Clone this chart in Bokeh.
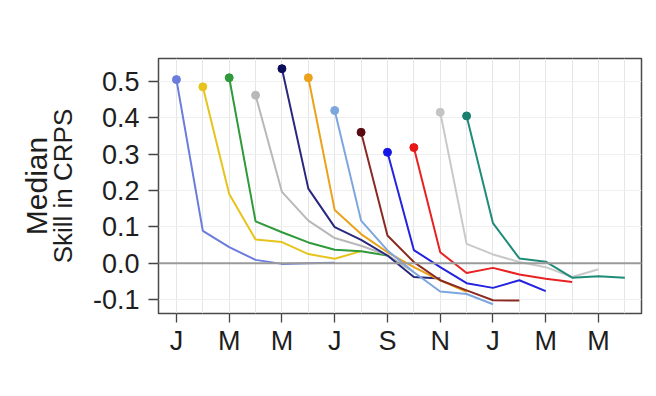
from bokeh.plotting import figure
from bokeh.models import Range1d, FixedTicker, Span, LinearAxis
from bokeh.embed import file_html
from bokeh.resources import INLINE

# ---- data -------------------------------------------------------------
tick_months = [0, 2, 4, 6, 8, 10, 12, 14, 16]
tick_labels = ["J", "M", "M", "J", "S", "N", "J", "M", "M"]
y_ticks = [-0.1, 0.0, 0.1, 0.2, 0.3, 0.4, 0.5]

start_months = [0, 1, 2, 3, 4, 5, 6, 7, 8, 9, 10, 11]
lead_times = [0, 1, 2, 3, 4, 5, 6]

skill_jan = [0.505, 0.089, 0.044, 0.009, -0.002, 0.000, 0.001]
skill_feb = [0.485, 0.190, 0.065, 0.058, 0.025, 0.012, 0.033]
skill_mar = [0.510, 0.115, 0.085, 0.057, 0.037, 0.033, 0.021]
skill_apr = [0.462, 0.196, 0.117, 0.069, 0.048, 0.022, -0.025]
skill_may = [0.535, 0.205, 0.099, 0.064, 0.021, -0.038, -0.042]
skill_jun = [0.510, 0.146, 0.080, 0.030, -0.011, -0.047, -0.079]
skill_jul = [0.420, 0.117, 0.035, -0.025, -0.078, -0.085, -0.113]
skill_aug = [0.360, 0.076, 0.003, -0.047, -0.075, -0.102, -0.103]
skill_sep = [0.305, 0.036, -0.011, -0.055, -0.068, -0.047, -0.077]
skill_oct = [0.318, 0.030, -0.027, -0.013, -0.031, -0.043, -0.052]
skill_nov = [0.415, 0.053, 0.024, 0.003, -0.011, -0.038, -0.017]
skill_dec = [0.405, 0.110, 0.013, 0.004, -0.040, -0.036, -0.040]

series = [skill_jan, skill_feb, skill_mar, skill_apr, skill_may, skill_jun,
          skill_jul, skill_aug, skill_sep, skill_oct, skill_nov, skill_dec]
line_colors = ["#6a7cdc", "#e6c41c", "#2f9a3a", "#b8b8b8", "#28287e", "#eba21a",
               "#7ca6de", "#8a2a22", "#2323e0", "#e82222", "#c9c9c9", "#1f8c7a"]
dot_colors = ["#6a7cdc", "#e6c41c", "#2f9a3a", "#b8b8b8", "#0c0c5c", "#eba21a",
              "#7ca6de", "#5a0a10", "#1515e8", "#e81818", "#c4c4c4", "#1a7f6e"]

# ---- figure -----------------------------------------------------------
p = figure(width=648, height=388, output_backend="svg", toolbar_location=None,
           x_range=Range1d(-0.68, 17.63), y_range=Range1d(-0.1385, 0.563),
           min_border_left=158, min_border_right=7, min_border_top=58,
           min_border_bottom=75)
p.background_fill_color = "white"
p.border_fill_color = "white"
p.outline_line_color = "#4a4a4a"
p.outline_line_width = 1.5

# grids
p.xgrid.ticker = FixedTicker(ticks=list(range(0, 18)))
p.xgrid.grid_line_color = "#e6e6e6"
p.xgrid.grid_line_width = 1
p.ygrid.ticker = FixedTicker(ticks=y_ticks)
p.ygrid.grid_line_color = "#efefef"
p.ygrid.grid_line_width = 1

# axes
font = "Liberation Sans"
p.xaxis.ticker = FixedTicker(ticks=tick_months)
p.xaxis.major_label_overrides = {m: l for m, l in zip(tick_months, tick_labels)}
p.yaxis.ticker = FixedTicker(ticks=y_ticks)
p.yaxis.major_label_overrides = {v: ("%.1f" % v) for v in y_ticks}
for ax in (p.xaxis, p.yaxis):
    ax.axis_line_color = None
    ax.major_tick_line_color = "#444444"
    ax.major_tick_line_width = 1.3
    ax.major_tick_in = 0
    ax.minor_tick_line_color = None
    ax.major_label_text_font = font
    ax.major_label_text_font_size = "27px"
    ax.major_label_text_color = "#1e1e1e"
p.yaxis.major_tick_out = 10
p.yaxis.major_label_standoff = 9
p.xaxis.major_tick_out = 9
p.xaxis.major_label_standoff = 3

# y-axis title, line 2 (closest to the axis)
p.yaxis.axis_label = "Skill in CRPS"
p.yaxis.axis_label_text_font = font
p.yaxis.axis_label_text_font_size = "26px"
p.yaxis.axis_label_text_font_style = "normal"
p.yaxis.axis_label_text_color = "#1e1e1e"
p.yaxis.axis_label_standoff = 12

# y-axis title, line 1 (outer), as a tick-less extra axis
title_axis = LinearAxis(ticker=FixedTicker(ticks=[]), axis_label="Median",
                        axis_line_color=None, major_tick_line_color=None,
                        minor_tick_line_color=None, major_tick_out=0,
                        major_label_standoff=0, axis_label_standoff=-8,
                        axis_label_text_font=font, axis_label_text_font_size="30px",
                        axis_label_text_font_style="normal",
                        axis_label_text_color="#1e1e1e")
p.add_layout(title_axis, "left")

# zero line
p.add_layout(Span(location=0, dimension="width", line_color="#9a9a9a", line_width=2))

# series
for start, vals, lc, dc in zip(start_months, series, line_colors, dot_colors):
    xs = [start + l for l in lead_times]
    p.line(xs, vals, line_color=lc, line_width=2)
    p.scatter([xs[0]], [vals[0]], size=8, fill_color=dc, line_color=dc)

open("out.html", "w").write(file_html(p, INLINE))
